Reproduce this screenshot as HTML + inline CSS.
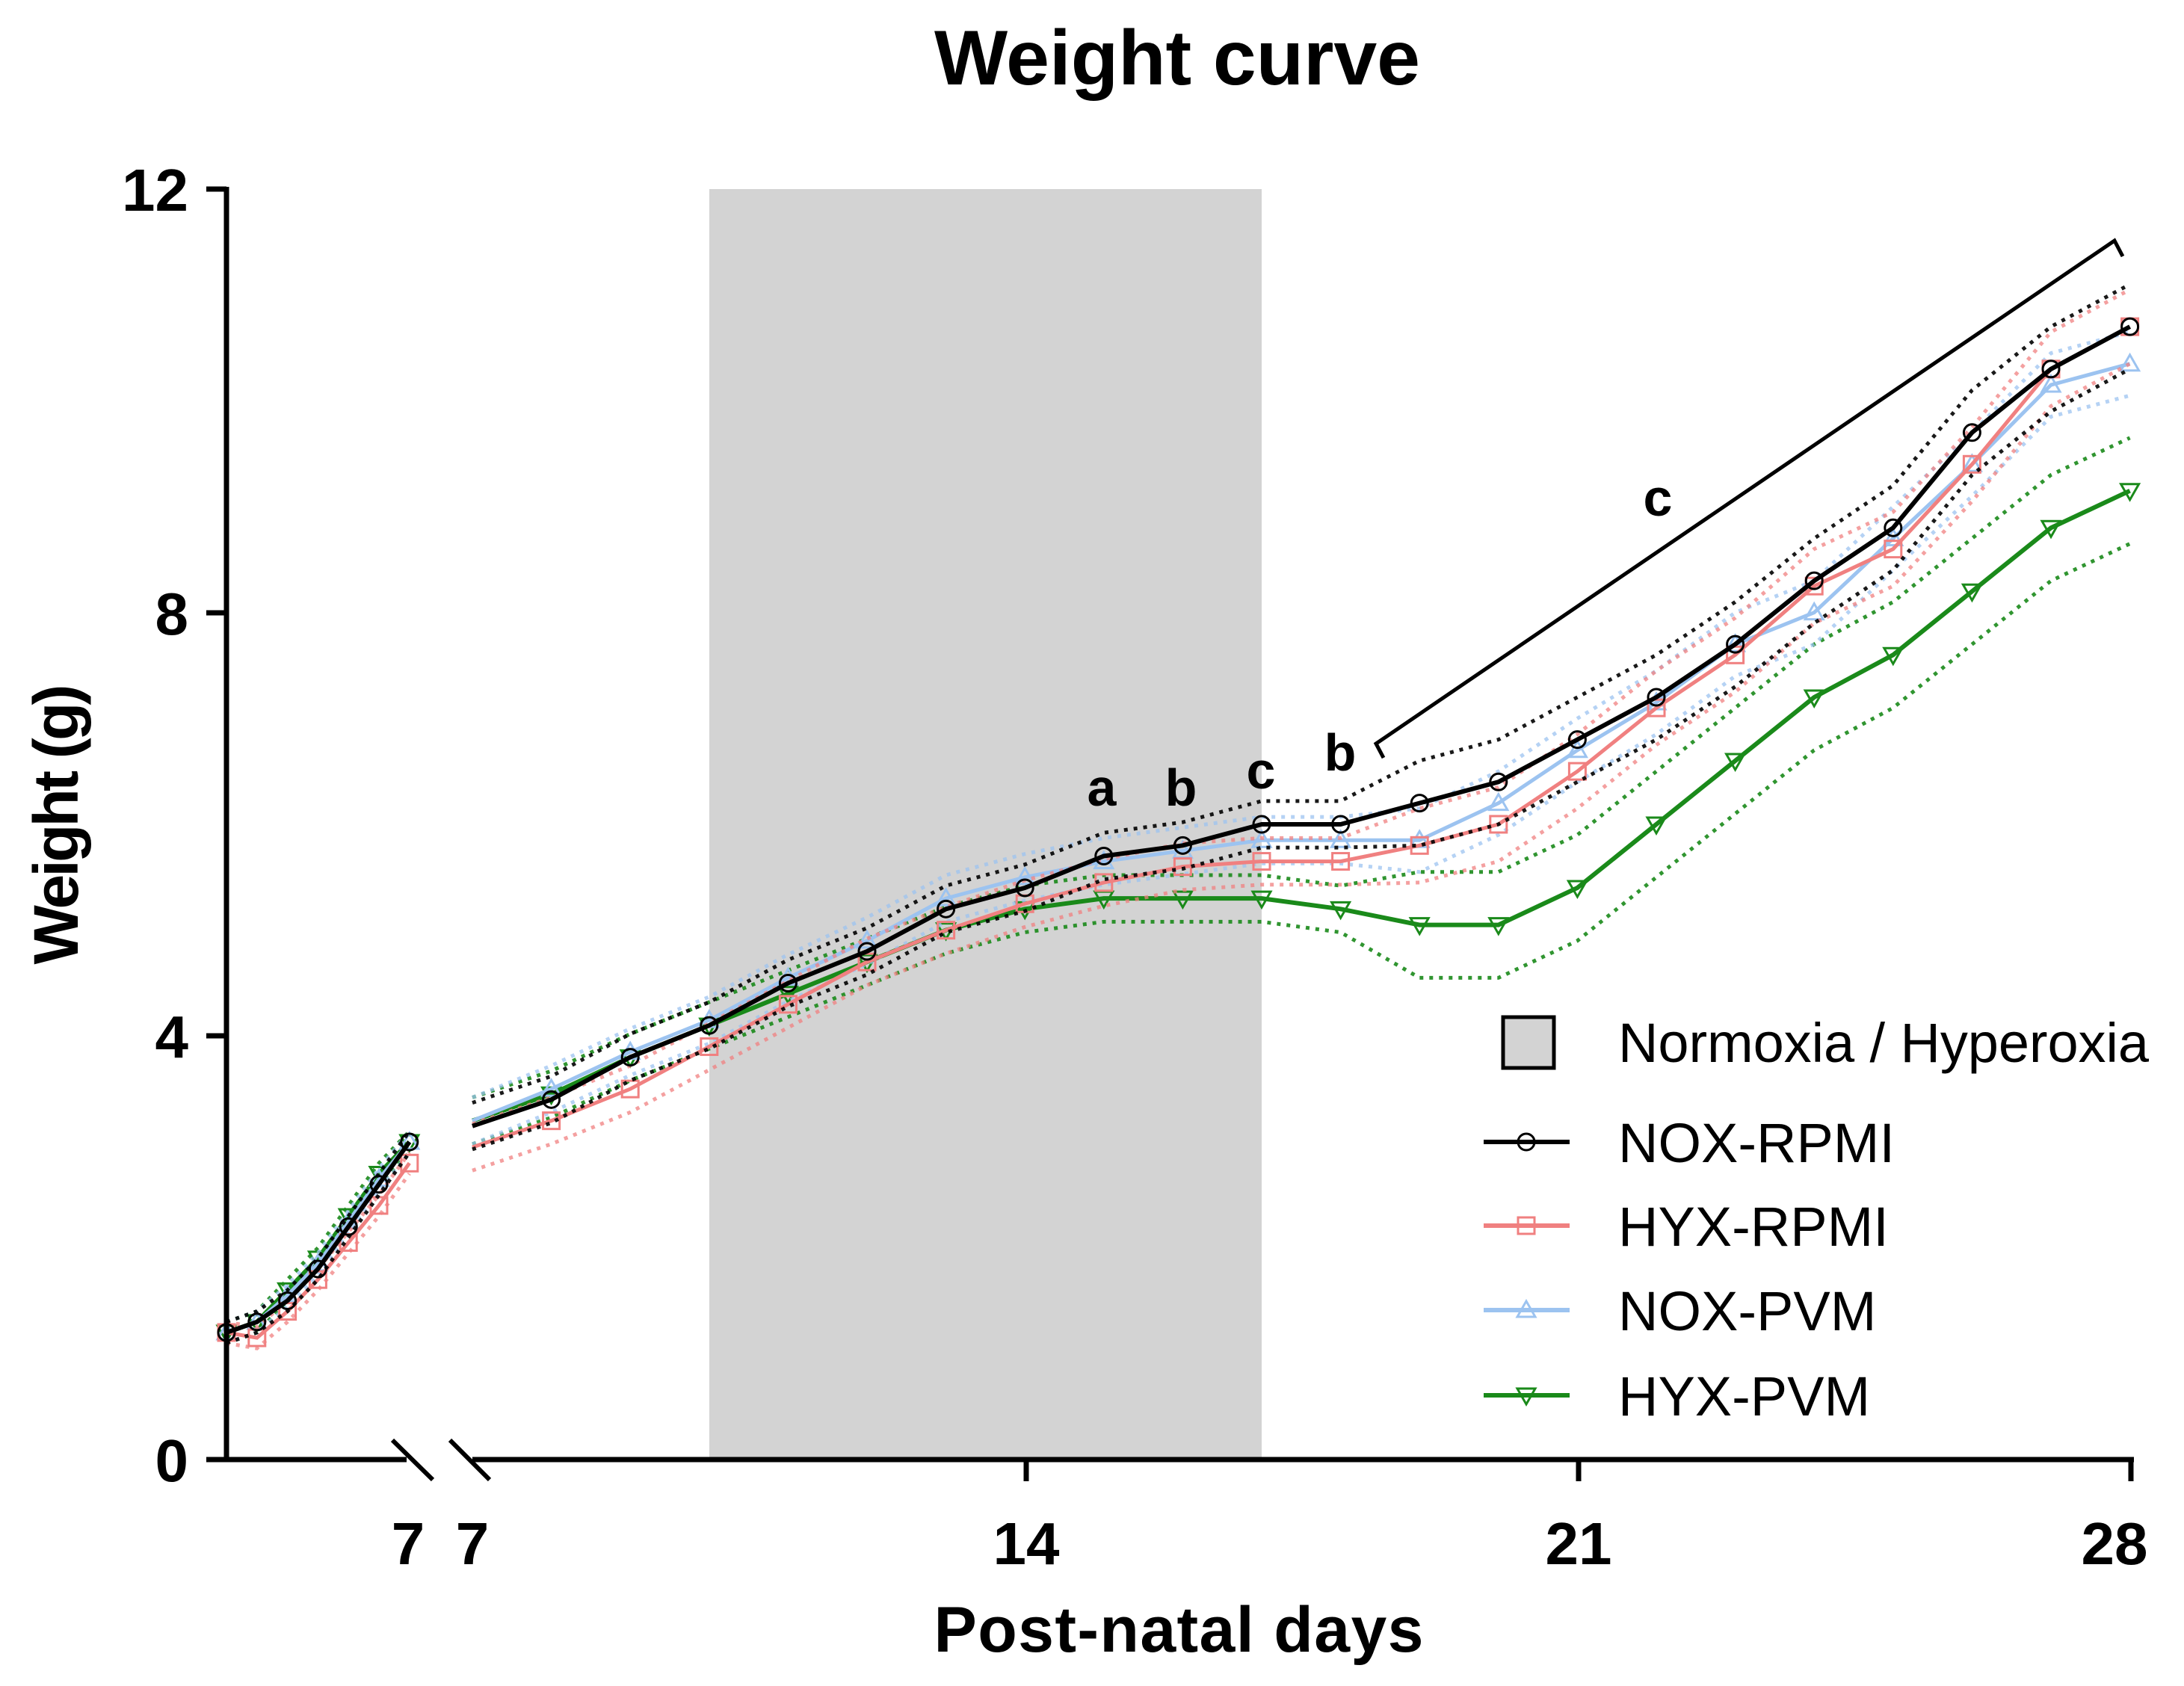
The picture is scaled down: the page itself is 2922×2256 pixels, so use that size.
<!DOCTYPE html>
<html><head><meta charset="utf-8"><style>
html,body{margin:0;padding:0;background:#fff;}
svg{display:block;font-family:"Liberation Sans",Arial,sans-serif;}
</style></head><body>
<svg id="chart" width="2922" height="2256" viewBox="0 0 2922 2256" xmlns="http://www.w3.org/2000/svg">
<text x="1575" y="113" font-size="104" font-weight="bold" text-anchor="middle" textLength="650">Weight curve</text>
<rect x="949" y="253" width="739" height="1700" fill="#d3d3d3"/>
<g id="series"></g>
<g>
<line x1="303" y1="250" x2="303" y2="1956" stroke="#000" stroke-width="7"/>
<line x1="276" y1="253" x2="303" y2="253" stroke="#000" stroke-width="7"/>
<line x1="276" y1="820" x2="303" y2="820" stroke="#000" stroke-width="7"/>
<line x1="276" y1="1386" x2="303" y2="1386" stroke="#000" stroke-width="7"/>
<line x1="276" y1="1953" x2="303" y2="1953" stroke="#000" stroke-width="7"/>
<text x="252" y="282" font-size="80" font-weight="bold" text-anchor="end">12</text>
<text x="252" y="849" font-size="80" font-weight="bold" text-anchor="end">8</text>
<text x="252" y="1415" font-size="80" font-weight="bold" text-anchor="end">4</text>
<text x="252" y="1982" font-size="80" font-weight="bold" text-anchor="end">0</text>
</g>
<text transform="translate(104,1103) rotate(-90)" font-size="84" font-weight="bold" text-anchor="middle" textLength="375">Weight (g)</text>
<g>
<line x1="300" y1="1953" x2="544" y2="1953" stroke="#000" stroke-width="7"/>
<line x1="525" y1="1927" x2="579" y2="1980" stroke="#000" stroke-width="6"/>
<line x1="602" y1="1927" x2="655" y2="1980" stroke="#000" stroke-width="6"/>
<line x1="632" y1="1953" x2="2855" y2="1953" stroke="#000" stroke-width="7"/>
<line x1="1373" y1="1953" x2="1373" y2="1982" stroke="#000" stroke-width="7"/>
<line x1="2112" y1="1953" x2="2112" y2="1982" stroke="#000" stroke-width="7"/>
<line x1="2851" y1="1953" x2="2851" y2="1982" stroke="#000" stroke-width="7"/>
<text x="546" y="2093" font-size="80" font-weight="bold" text-anchor="middle">7</text>
<text x="632" y="2093" font-size="80" font-weight="bold" text-anchor="middle">7</text>
<text x="1373" y="2093" font-size="80" font-weight="bold" text-anchor="middle">14</text>
<text x="2112" y="2093" font-size="80" font-weight="bold" text-anchor="middle">21</text>
<text x="2829" y="2093" font-size="80" font-weight="bold" text-anchor="middle">28</text>
</g>
<text x="1577" y="2210" font-size="86" font-weight="bold" text-anchor="middle" textLength="655">Post-natal days</text>
<g font-size="70" font-weight="bold" text-anchor="middle">
<text x="1474" y="1078">a</text>
<text x="1580" y="1078">b</text>
<text x="1687" y="1055">c</text>
<text x="1793" y="1031">b</text>
<polyline points="1851,1014 1841,995 2829,322 2840,343" fill="none" stroke="#000" stroke-width="5"/>
<text x="2218" y="690">c</text>
</g>
<g font-size="74">
<rect x="2011" y="1361" width="68" height="68" fill="#d3d3d3" stroke="#000" stroke-width="5"/>
<text x="2165" y="1421" textLength="710">Normoxia / Hyperoxia</text>
<g id="legend-lines"></g>
</g>
</svg>
<script>
const daysA = [1,2,3,4,5,6,7];
const daysB = [7,8,9,10,11,12,13,14,15,16,17,18,19,20,21,22,23,24,25,26,27,28];
const names = ["NOX-RPMI","HYX-RPMI","NOX-PVM","HYX-PVM"];
const colors = ["#000000","#f08080","#9cc3f0","#1a8a1a"];
const markers = ["circle","square","up","down"];
const nA_rpmi = [1.2,1.3,1.5,1.8,2.2,2.6,3.0];
const hA_rpmi = [1.2,1.15,1.4,1.7,2.05,2.4,2.8];
const nA_pvm  = [1.2,1.3,1.55,1.85,2.25,2.65,3.0];
const hA_pvm  = [1.2,1.3,1.6,1.9,2.3,2.7,3.0];
const nB_rpmi = [3.15,3.4,3.8,4.1,4.5,4.8,5.2,5.4,5.7,5.8,6.0,6.0,6.2,6.4,6.8,7.2,7.7,8.3,8.8,9.7,10.3,10.7];
const hB_rpmi = [2.95,3.2,3.5,3.9,4.3,4.7,5.0,5.25,5.45,5.6,5.65,5.65,5.8,6.0,6.5,7.1,7.6,8.25,8.6,9.4,10.3,10.7];
const nB_pvm  = [3.2,3.5,3.85,4.15,4.55,4.9,5.3,5.5,5.65,5.75,5.85,5.85,5.85,6.2,6.7,7.15,7.7,8.0,8.7,9.4,10.15,10.35];
const hB_pvm  = [3.2,3.45,3.8,4.1,4.4,4.7,5.0,5.2,5.3,5.3,5.3,5.2,5.05,5.05,5.4,6.0,6.6,7.2,7.6,8.2,8.8,9.15];
const semLate = [0.4,0.35,0.3,0.5];
const svgNS="http://www.w3.org/2000/svg";
function xA(d){return 303+(d-1)*40.8;}
function xB(d){return 632+(d-7)*105.6;}
function yS(v){return 1953-v*141.67;}
const seriesA=[nA_rpmi,hA_rpmi,nA_pvm,hA_pvm];
const seriesB=[nB_rpmi,hB_rpmi,nB_pvm,hB_pvm];
const layer=document.getElementById("series");
function el(t,a){const e=document.createElementNS(svgNS,t);for(const k in a)e.setAttribute(k,a[k]);return e;}
function marker(kind,x,y,c,parent){
  let m;
  if(kind==="circle") m=el("circle",{cx:x,cy:y,r:11});
  else if(kind==="square") m=el("rect",{x:x-11,y:y-11,width:22,height:22});
  else if(kind==="up") m=el("polygon",{points:`${x},${y-12} ${x-12},${y+9} ${x+12},${y+9}`});
  else m=el("polygon",{points:`${x},${y+12} ${x-12},${y-9} ${x+12},${y-9}`});
  m.setAttribute("fill","none");m.setAttribute("stroke",c);m.setAttribute("stroke-width","3");
  
  
  parent.appendChild(m);
}
function sem(i,d,seg){ if(seg===0) return 0.1; if(d<=18) return 0.22; return semLate[i]; }
for(const i of [3,2,1,0]){
  const g=el("g",{});
  
  
  [[daysA,seriesA[i],xA,0],[daysB,seriesB[i],xB,1]].forEach(([ds,vs,xf,seg])=>{
    for(const s of [1,-1]){
      const pts=ds.map((d,k)=>xf(d)+","+yS(vs[k]+s*sem(i,d,seg))).join(" ");
      const p=el("polyline",{points:pts,fill:"none",stroke:colors[i],"stroke-width":5,"stroke-dasharray":"5 8","opacity":i===0||i===3?0.9:0.75});
      
      
      g.appendChild(p);
    }
    const pts=ds.map((d,k)=>xf(d)+","+yS(vs[k])).join(" ");
    const l=el("polyline",{points:pts,fill:"none",stroke:colors[i],"stroke-width":i===0||i===3?6:5});
    
    
    g.appendChild(l);
    ds.forEach((d,k)=>{ if(seg===1&&d===7) return; marker(markers[i],xf(d),yS(vs[k]),colors[i],g); });
  });
  layer.appendChild(g);
}
const lg=document.getElementById("legend-lines");
const ly=[1528,1640,1753,1867];
names.forEach((n,i)=>{
  const l=el("line",{x1:1985,y1:ly[i],x2:2100,y2:ly[i],stroke:colors[i],"stroke-width":6});
  
  
  lg.appendChild(l);
  marker(markers[i],2042,ly[i],colors[i],lg);
  const t=el("text",{x:2165,y:ly[i]+27});
  t.textContent=n;
  
  
  lg.appendChild(t);
});
</script>
</body></html>
